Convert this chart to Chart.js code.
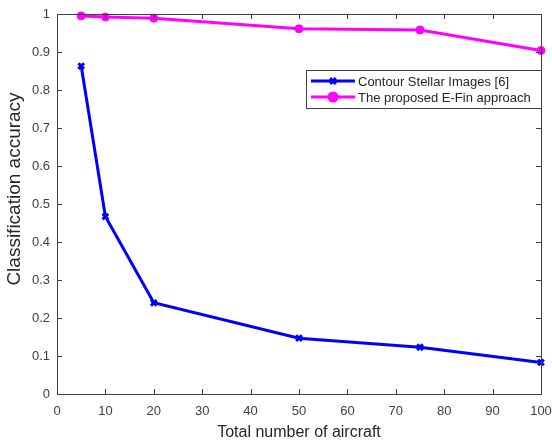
<!DOCTYPE html>
<html>
<head>
<meta charset="UTF-8">
<title>Classification accuracy vs number of aircraft</title>
<script src="https://cdn.jsdelivr.net/npm/chart.js@4.4.0/dist/chart.umd.min.js"></script>
<style>
    body { margin: 0; padding: 0; background: #fff; }
    #wrap { width: 552px; height: 444px; }
</style>
</head>
<body>
<div id="wrap"><canvas id="chart" width="552" height="444"></canvas></div>
<script>
    // data
    const aircraftCounts = [5, 10, 20, 50, 75, 100];
    const contourAcc = [0.863, 0.467, 0.240, 0.147, 0.123, 0.083];
    const efinAcc = [0.995, 0.992, 0.989, 0.961, 0.958, 0.904];
    const xTicks = [0, 10, 20, 30, 40, 50, 60, 70, 80, 90, 100];
    const yTicks = [0, 0.1, 0.2, 0.3, 0.4, 0.5, 0.6, 0.7, 0.8, 0.9, 1];
    const yTitle = 'Classification accuracy';

    const axisColor = '#404040';
    const fontFamily = '"Liberation Sans", Arial, sans-serif';

    function toPoints(xs, ys) {
        return xs.map((x, i) => ({ x: x, y: ys[i] }));
    }

    // box around plot area + inward ticks on all four sides
    const boxTicks = {
        id: 'boxTicks',
        afterDraw(chart) {
            const { ctx, chartArea: a, scales } = chart;
            ctx.save();
            ctx.strokeStyle = axisColor;
            ctx.lineWidth = 1;
            ctx.strokeRect(a.left + 0.5, a.top + 0.5, a.right - a.left, a.bottom - a.top);
            ctx.beginPath();
            xTicks.forEach(v => {
                const px = Math.round(scales.x.getPixelForValue(v)) + 0.5;
                ctx.moveTo(px, a.bottom); ctx.lineTo(px, a.bottom - 5);
                ctx.moveTo(px, a.top); ctx.lineTo(px, a.top + 5);
            });
            yTicks.forEach(v => {
                const py = Math.round(scales.y.getPixelForValue(v)) + 0.5;
                ctx.moveTo(a.left, py); ctx.lineTo(a.left + 5, py);
                ctx.moveTo(a.right, py); ctx.lineTo(a.right - 5, py);
            });
            ctx.stroke();

            // y axis title, sits a bit above the middle like the original
            ctx.fillStyle = '#262626';
            ctx.font = '19px ' + fontFamily;
            ctx.textAlign = 'center';
            ctx.textBaseline = 'middle';
            ctx.translate(15, (a.top + a.bottom) / 2 - 15);
            ctx.rotate(-Math.PI / 2);
            ctx.fillText(yTitle, 0, 0);
            ctx.restore();
        }
    };

    // legend box inside the plot, top right
    const insideLegend = {
        id: 'insideLegend',
        afterDraw(chart) {
            const { ctx, chartArea: a } = chart;
            const boxW = 235, rowH = 16, boxH = 38;
            const x0 = a.right - boxW, y0 = 70;
            ctx.save();
            ctx.fillStyle = '#fff';
            ctx.fillRect(x0, y0, boxW, boxH);
            ctx.strokeStyle = axisColor;
            ctx.lineWidth = 1;
            ctx.strokeRect(x0 + 0.5, y0 + 0.5, boxW, boxH);
            ctx.font = '13px ' + fontFamily;
            ctx.textBaseline = 'middle';
            chart.data.datasets.forEach((ds, i) => {
                const cy = y0 + 11 + i * rowH;
                ctx.strokeStyle = ds.borderColor;
                ctx.lineWidth = 3;
                ctx.beginPath();
                ctx.moveTo(x0 + 5, cy); ctx.lineTo(x0 + 49, cy);
                ctx.stroke();
                Chart.helpers.drawPoint(ctx, {
                    pointStyle: ds.pointStyle,
                    radius: ds.pointRadius,
                    borderWidth: ds.pointBorderWidth
                }, x0 + 27, cy);
                if (ds.pointStyle === 'circle') {
                    ctx.fillStyle = ds.pointBackgroundColor;
                    ctx.beginPath();
                    ctx.arc(x0 + 27, cy, ds.pointRadius, 0, Math.PI * 2);
                    ctx.fill();
                }
                ctx.fillStyle = '#262626';
                ctx.fillText(ds.label, x0 + 52, cy + 1);
            });
            ctx.restore();
        }
    };

    new Chart(document.getElementById('chart'), {
        type: 'line',
        data: {
            datasets: [
                {
                    label: 'Contour Stellar Images [6]',
                    data: toPoints(aircraftCounts, contourAcc),
                    borderColor: '#0000ff',
                    backgroundColor: '#0000ff',
                    pointBackgroundColor: '#0000ff',
                    pointBorderColor: '#0000ff',
                    borderWidth: 3,
                    pointStyle: 'crossRot',
                    pointRadius: 4,
                    pointBorderWidth: 3,
                    tension: 0
                },
                {
                    label: 'The proposed E-Fin approach',
                    data: toPoints(aircraftCounts, efinAcc),
                    borderColor: '#ff00ff',
                    backgroundColor: '#ff00ff',
                    pointBackgroundColor: '#ff00ff',
                    pointBorderColor: '#ff00ff',
                    borderWidth: 3,
                    pointStyle: 'circle',
                    pointRadius: 4,
                    pointBorderWidth: 1,
                    tension: 0
                }
            ]
        },
        options: {
            responsive: false,
            animation: false,
            clip: false,
            layout: { padding: { top: 14, right: 11, left: 0, bottom: 0 } },
            plugins: {
                legend: { display: false },
                tooltip: { enabled: false }
            },
            scales: {
                x: {
                    type: 'linear',
                    min: 0,
                    max: 100,
                    afterFit(scale) {
                        scale.height = 50;
                        scale.paddingLeft = 0;
                        scale.paddingRight = 0;
                    },
                    afterBuildTicks(scale) { scale.ticks = xTicks.map(v => ({ value: v })); },
                    grid: { display: false, drawTicks: false },
                    border: { display: false },
                    ticks: {
                        color: axisColor,
                        padding: 10,
                        maxRotation: 0,
                        autoSkip: false,
                        font: { family: fontFamily, size: 13 }
                    },
                    title: {
                        display: true,
                        text: 'Total number of aircraft',
                        color: '#262626',
                        padding: { top: 0, bottom: 2 },
                        font: { family: fontFamily, size: 16 }
                    }
                },
                y: {
                    type: 'linear',
                    min: 0,
                    max: 1,
                    afterFit(scale) {
                        scale.width = 57;
                        scale.paddingTop = 0;
                        scale.paddingBottom = 0;
                    },
                    afterBuildTicks(scale) { scale.ticks = yTicks.map(v => ({ value: v })); },
                    grid: { display: false, drawTicks: false },
                    border: { display: false },
                    ticks: {
                        color: axisColor,
                        padding: 7,
                        autoSkip: false,
                        font: { family: fontFamily, size: 13 },
                        callback: v => String(Math.round(v * 10) / 10)
                    },
                    title: { display: false }
                }
            }
        },
        plugins: [boxTicks, insideLegend]
    });
</script>
</body>
</html>
